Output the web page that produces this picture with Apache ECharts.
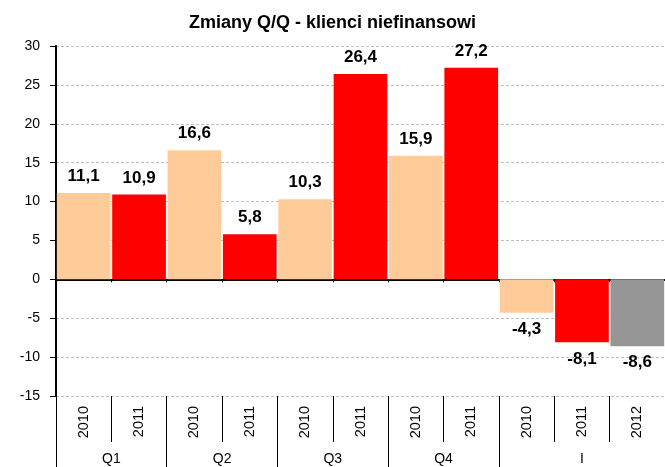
<!DOCTYPE html>
<html><head><meta charset="utf-8">
<script src="https://cdn.jsdelivr.net/npm/echarts@6/dist/echarts.min.js"></script>
<style>html,body{margin:0;padding:0;background:#fff}#c{width:665px;height:467px}</style>
</head><body><div id="c"></div>
<script>
const years = ['2010','2011','2010','2011','2010','2011','2010','2011','2010','2011','2012'];
const values = [11.1, 10.9, 16.6, 5.8, 10.3, 26.4, 15.9, 27.2, -4.3, -8.1, -8.6];
const groups = ['Q1','Q2','Q3','Q4','I'];
const groupCenters = [1, 3, 5, 7, 9.5];
const groupBounds = [0, 2, 4, 6, 8, 11];
const yearColors = {'2010': '#FFCC99', '2011': '#FF0000', '2012': '#969696'};
const yTicks = {min: -15, max: 30, step: 5};

const font = 'Liberation Sans, Arial, sans-serif';
const chart = echarts.init(document.getElementById('c'));
chart.setOption({
  animation: false,
  title: {text: 'Zmiany Q/Q - klienci niefinansowi', left: 'center', top: 9,
    textStyle: {fontFamily: font, fontSize: 18, fontWeight: 'bold', color: '#000'}},
  grid: {left: 56, right: 0, top: 46, bottom: 71},
  xAxis: [
    {type: 'category', data: years, axisLine: {onZero: true, lineStyle: {color: '#000', width: 2}},
     axisTick: {show: true, length: 3, lineStyle: {color: '#000'}}, axisLabel: {show: false}, splitLine: {show: false}},
    {type: 'category', data: years, position: 'bottom', axisLine: {onZero: false, show: false},
     axisTick: {show: true, length: 46, interval: 0, lineStyle: {color: '#000'}},
     axisLabel: {rotate: 90, interval: 0, margin: 10, fontFamily: font, fontSize: 14.5, color: '#000'}},
    {type: 'value', min: 0, max: 11, position: 'bottom', axisLine: {onZero: false, show: false},
     splitLine: {show: false},
     axisTick: {show: true, length: 72, customValues: groupBounds, lineStyle: {color: '#000'}},
     axisLabel: {customValues: groupCenters, margin: 56, fontFamily: font, fontSize: 14, color: '#000',
       formatter: v => groups[groupCenters.indexOf(v)] || ''}}
  ],
  yAxis: {type: 'value', min: yTicks.min, max: yTicks.max, interval: yTicks.step,
    axisLine: {show: true, lineStyle: {color: '#000', width: 2}},
    axisTick: {show: true, length: 6, lineStyle: {color: '#000'}},
    axisLabel: {fontFamily: font, fontSize: 14, color: '#000', margin: 16},
    splitLine: {lineStyle: {color: '#bfbfbf', type: [3, 2]}}},
  series: [{
    type: 'bar', xAxisIndex: 0, barWidth: '97%',
    data: values.map((v, i) => ({
      value: v,
      itemStyle: {color: yearColors[years[i]]},
      label: {show: true, position: v >= 0 ? 'top' : 'bottom', distance: v >= 0 ? 8 : 8,
        formatter: () => String(v).replace('.', ','),
        fontFamily: font, fontSize: 17, fontWeight: 'bold', color: '#000'}
    }))
  }]
});
</script></body></html>
